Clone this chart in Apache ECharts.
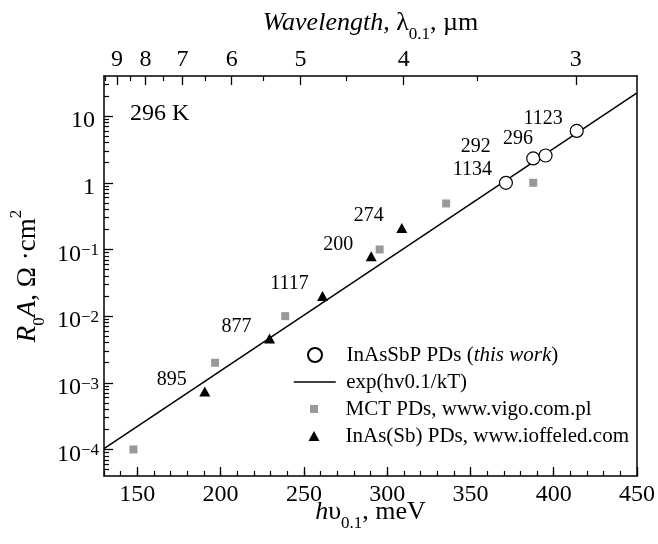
<!DOCTYPE html>
<html><head><meta charset="utf-8">
<script src="https://cdn.jsdelivr.net/npm/echarts@6/dist/echarts.min.js"></script>
<style>html,body{margin:0;padding:0;background:#fff}#c{width:658px;height:544px}</style>
</head><body><div id="c"></div>
<script>
// ---------------- data ----------------
const seriesNames = ['InAsSbP PDs (this work)', 'exp(hv0.1/kT)', 'MCT PDs, www.vigo.com.pl', 'InAs(Sb) PDs, www.ioffeled.com'];
const circleE = [371.3, 387.7, 395.1, 413.8];
const circleR = [1.0, 2.32, 2.57, 6.0];
const circleLabels = ['1134', '292', '296', '1123'];
const mctE = [147.7, 196.7, 238.8, 295.5, 335.4, 387.7];
const mctR = [1.0e-4, 2.0e-3, 1.0e-2, 0.1, 0.49, 1.0];
const inasE = [190.5, 229.4, 261.2, 290.4, 308.8];
const inasR = [7.4e-4, 4.6e-3, 0.020, 0.079, 0.21];
const inasLabels = ['895', '877', '1117', '200', '274'];
const fitE = [130, 450];
const fitR = [1.03e-4, 22.3];
const energyTicks = [150, 200, 250, 300, 350, 400, 450];
const wavelengthTicks = [9, 8, 7, 6, 5, 4, 3];
const wavelengthMinorTicks = [9.5, 8.5, 7.5, 6.5, 5.5, 4.5, 3.5];
const decadeTicks = [1e-4, 1e-3, 1e-2, 1e-1, 1, 10];
const tempLabel = '296 K';

// ---------------- styling ----------------
const FONT = 'Liberation Serif';
const INK = '#000';
const HC = 1239.84; // meV*um
const E_MIN = 130, E_MAX = 450, R_MIN = 4e-5, R_MAX = 40;

const minorY = [];
[1e-5].concat(decadeTicks).forEach(d => { for (let k = 2; k <= 9; k++) { const v = d * k; if (v > R_MIN && v < R_MAX) minorY.push(v); } });

const lineW = 1.5;
const majorTick = (vals) => ({ show: true, inside: true, length: 9, customValues: vals, lineStyle: { color: '#000', width: 1.3 } });
const minorTick = (vals) => ({ show: true, inside: true, length: 5, customValues: vals, lineStyle: { color: '#000', width: 1.2 } });

function nameRich(fs, subLH, supLH) {
  return {
    i: { fontFamily: FONT, fontSize: fs, fontStyle: 'italic', lineHeight: 40, color: INK },
    m: { fontFamily: FONT, fontSize: fs, lineHeight: 40, color: INK },
    s: { fontFamily: FONT, fontSize: 17, lineHeight: subLH, verticalAlign: 'bottom', color: INK },
    p: { fontFamily: FONT, fontSize: 17, lineHeight: supLH, verticalAlign: 'top', color: INK }
  };
}

function pts(xs, ys) { return xs.map((x, i) => [x, ys[i]]); }

const labelFont = { fontFamily: FONT, fontSize: 20, color: '#000', opacity: 1, align: 'center', verticalAlign: 'middle' };
const specialOffsets = { '292': [-57, -11], '296': [-27, -16] };
function labelled(xs, ys, texts, symW, symH) {
  return xs.map((x, i) => {
    const off = specialOffsets[texts[i]] || [-33, -12];
    return {
      value: [x, ys[i]],
      label: { show: true, position: [symW / 2 + off[0], symH / 2 + off[1]], formatter: texts[i], ...labelFont }
    };
  });
}

function legendBox(name, size, rowCenter, iconW, extra) {
  const left = 314 - iconW / 2;
  const pad = 345.5 - (left + iconW + 5);
  return Object.assign({
    data: [name], left: left, top: rowCenter - 12, padding: 0, itemWidth: iconW, itemHeight: size,
    selectedMode: false, orient: 'horizontal',
    textStyle: { fontFamily: FONT, fontSize: 21, lineHeight: 24, color: INK, padding: [0, 0, 0, pad] }
  }, extra || {});
}

const option = {
  animation: false,
  backgroundColor: '#fff',
  title: { text: tempLabel, left: 130, top: 102, padding: 0, textStyle: { fontFamily: FONT, fontSize: 24, fontWeight: 'normal', color: INK } },
  grid: { left: 102, right: 18, top: 76, bottom: 68, show: false, containLabel: false },
  legend: [
    legendBox(seriesNames[0], 14, 355, 14, {
      formatter: () => '{n|InAsSbP PDs (}{it|this work}{n|)}',
      textStyle: { fontFamily: FONT, fontSize: 21, lineHeight: 24, color: INK, padding: [0, 0, 0, 345.5 - 326],
        rich: { n: { fontFamily: FONT, fontSize: 21, color: INK }, it: { fontFamily: FONT, fontSize: 21, fontStyle: 'italic', color: INK } } }
    }),
    legendBox(seriesNames[1], 14, 382, 42, { itemStyle: { opacity: 0 }, lineStyle: { color: '#000', width: 1.5 } }),
    legendBox(seriesNames[2], 8, 409, 8),
    legendBox(seriesNames[3], 10, 436, 11)
  ],
  xAxis: [
    {
      type: 'value', position: 'bottom', min: E_MIN, max: E_MAX, z: 10,
      axisLine: { show: true, lineStyle: { color: '#000', width: lineW } },
      axisTick: majorTick(energyTicks),
      axisLabel: { customValues: energyTicks, fontFamily: FONT, fontSize: 24, color: INK, margin: 7 },
      splitLine: { show: false },
      name: '{i|h}{m|υ}{s|0.1}{m|, meV}', nameLocation: 'middle', nameGap: 16, nameMoveOverlap: false,
      nameTextStyle: { rich: nameRich(26, 16, 16) }
    },
    {
      type: 'value', position: 'bottom', offset: 0, min: E_MIN, max: E_MAX, interval: 10, z: 10,
      axisLine: { show: false },
      axisTick: { show: true, inside: true, length: 5, lineStyle: { color: '#000', width: 1.2 } },
      axisLabel: { show: false }, splitLine: { show: false }
    },
    {
      type: 'value', position: 'top', min: E_MIN, max: E_MAX, z: 10,
      axisLine: { show: true, lineStyle: { color: '#000', width: lineW } },
      axisTick: majorTick(wavelengthTicks.map(l => HC / l)),
      axisLabel: { customValues: wavelengthTicks.map(l => HC / l), formatter: v => String(Math.round(HC / v)), fontFamily: FONT, fontSize: 24, color: INK, margin: 4 },
      splitLine: { show: false },
      name: '{i|Wavelength}{m|, λ}{s|0.1}{m|, µm}', nameLocation: 'middle', nameGap: 33, nameMoveOverlap: false,
      nameTextStyle: { rich: nameRich(26, 16, 16) }
    },
    {
      type: 'value', position: 'top', offset: 0, min: E_MIN, max: E_MAX, z: 10,
      axisLine: { show: false },
      axisTick: minorTick(wavelengthMinorTicks.map(l => HC / l)),
      axisLabel: { show: false }, splitLine: { show: false }
    }
  ],
  yAxis: [
    {
      type: 'log', logBase: 10, position: 'left', min: R_MIN, max: R_MAX, z: 10,
      axisLine: { show: true, lineStyle: { color: '#000', width: lineW } },
      axisTick: majorTick(decadeTicks),
      axisLabel: {
        customValues: decadeTicks, margin: 5, padding: [10, 0, 0, 0],
        formatter: v => {
          const e = Math.round(Math.log10(v));
          if (e === 0) return '{q|1}';
          if (e === 1) return '{q|10}';
          return '{b|10}{sup|−' + (-e) + '}';
        },
        rich: {
          b: { fontFamily: FONT, fontSize: 24, lineHeight: 24, verticalAlign: 'top', color: INK },
          q: { fontFamily: FONT, fontSize: 24, lineHeight: 24, verticalAlign: 'top', color: INK, padding: [0, 4, 0, 0] },
          sup: { fontFamily: FONT, fontSize: 17, lineHeight: 17, verticalAlign: 'top', color: INK }
        }
      },
      splitLine: { show: false },
      name: '{i|R}{s|0}{i|A}{m|, Ω ·cm}{p|2}', nameLocation: 'middle', nameGap: 56, nameRotate: 90, nameMoveOverlap: false,
      nameTextStyle: { rich: nameRich(27, 24, 8) }
    },
    {
      type: 'log', logBase: 10, position: 'left', offset: 0, min: R_MIN, max: R_MAX, z: 10,
      axisLine: { show: false },
      axisTick: minorTick(minorY),
      axisLabel: { show: false }, splitLine: { show: false }
    },
    {
      type: 'log', logBase: 10, position: 'right', offset: 0, min: R_MIN, max: R_MAX, z: 10,
      axisLine: { show: true, lineStyle: { color: '#000', width: lineW } },
      axisTick: { show: false }, axisLabel: { show: false }, splitLine: { show: false }
    }
  ],
  series: [
    {
      name: seriesNames[1], type: 'line', xAxisIndex: 0, yAxisIndex: 0,
      data: pts(fitE, fitR), symbol: 'none', showSymbol: false,
      lineStyle: { color: '#000', width: 1.5 }, itemStyle: { color: '#000' }, z: 2
    },
    {
      name: seriesNames[2], type: 'scatter', xAxisIndex: 0, yAxisIndex: 0,
      data: pts(mctE, mctR), symbol: 'rect', symbolSize: 8,
      itemStyle: { color: '#999', opacity: 1 }, z: 3
    },
    {
      name: seriesNames[3], type: 'scatter', xAxisIndex: 0, yAxisIndex: 0,
      data: labelled(inasE, inasR, inasLabels, 11, 10), symbol: 'triangle', symbolSize: [11, 10],
      itemStyle: { color: '#000', opacity: 1 }, z: 4
    },
    {
      name: seriesNames[0], type: 'scatter', xAxisIndex: 0, yAxisIndex: 0,
      data: labelled(circleE, circleR, circleLabels, 13, 13), symbol: 'circle', symbolSize: 13,
      itemStyle: { color: '#fff', borderColor: '#000', borderWidth: 1.2, opacity: 1 }, z: 5
    }
  ]
};

const chart = echarts.init(document.getElementById('c'), null, { renderer: 'canvas' });
chart.setOption(option);
</script>
</body></html>
